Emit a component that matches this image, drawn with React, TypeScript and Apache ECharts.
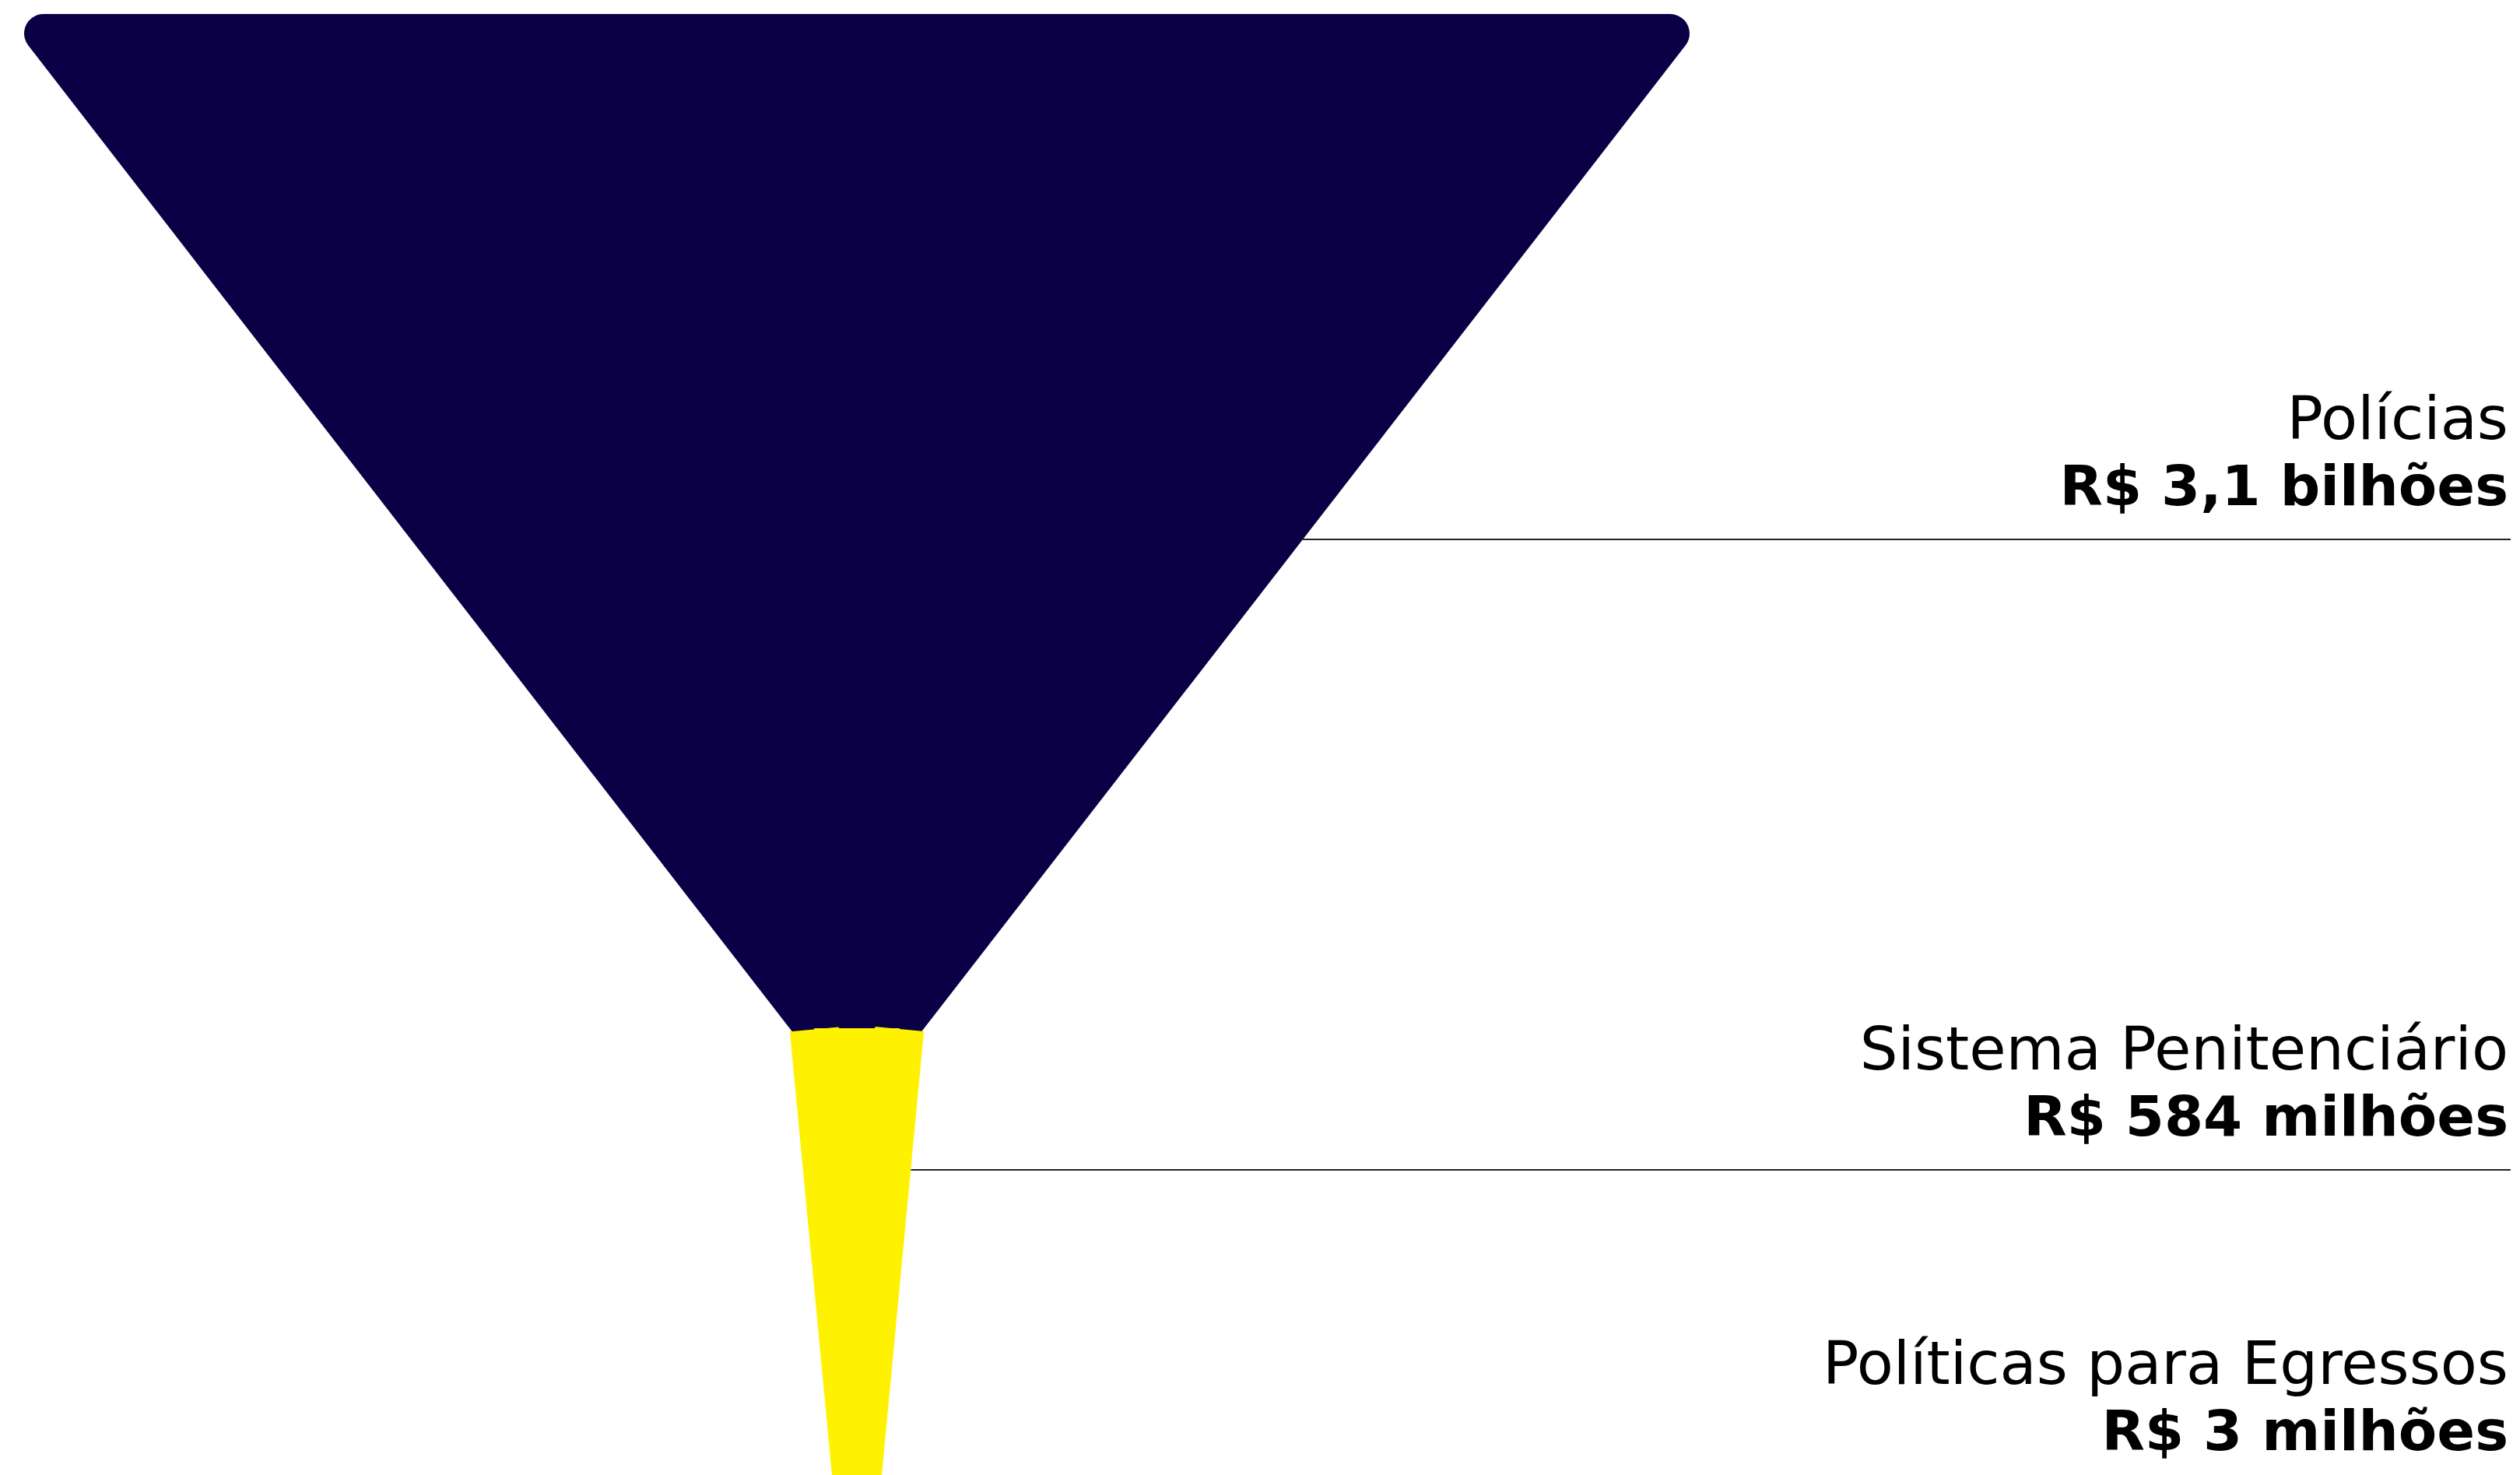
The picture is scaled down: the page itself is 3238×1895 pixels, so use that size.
import React, { useEffect, useRef } from "react";
import * as echarts from "echarts";

// ---- data ----
const CATEGORIES = ["Polícias", "Sistema Penitenciário", "Políticas para Egressos"];
const VALUES = [3100, 584, 3]; // R$ milhões
const VALUE_LABELS = ["R$ 3,1 bilhões", "R$ 584 milhões", "R$ 3 milhões"];
const COLORS = ["#0b0046", "#fff200", "#fff200"];

// ---- layout (styling only) ----
const FUNNEL_LEFT = 56;
const FUNNEL_TOP = 43;
const FUNNEL_WIDTH = 2090;
const SCALE_MIN = 444.55;
const SCALE_MAX = 3100;
const SEGMENT_HEIGHTS = [1278, 578, 300];
const BORDER_WIDTHS = [50, 63, 0]; // same-colour strokes (rounded top corners)
const LABEL_LINE_Y = [693, 1503, 1907];
const LABEL_RIGHT = 3223;
const LINE_END = 3226;

export default function App() {
  const ref = useRef<HTMLDivElement>(null);

  useEffect(() => {
    if (!ref.current) return;
    const chart = echarts.init(ref.current, undefined, { renderer: "svg" });

    // the second piece is stroked on its sides only (no stroke along its top edge)
    const topW = (FUNNEL_WIDTH * (VALUES[1] - SCALE_MIN)) / (SCALE_MAX - SCALE_MIN);
    const side = Math.hypot(topW / 2, SEGMENT_HEIGHTS[1]);
    const skip = 1.2;
    const dashOn = 2 * side - 2 * skip;
    const dashOff = topW + skip;

    const data = CATEGORIES.map((name, i) => {
      const itemStyle: any = {
        color: COLORS[i],
        height: SEGMENT_HEIGHTS[i],
        borderWidth: BORDER_WIDTHS[i],
        borderColor: COLORS[i],
      };
      if (i === 1) {
        itemStyle.borderType = [dashOn, dashOff];
        itemStyle.borderDashOffset = dashOn;
        itemStyle.borderCap = "butt";
      }
      return {
        name,
        value: VALUES[i],
        itemStyle,
        label: {
          formatter: `{a|${name}}\n{b|${VALUE_LABELS[i]}}`,
        },
      };
    });

    chart.setOption({
      animation: false,
      backgroundColor: "#ffffff",
      series: [
        {
          type: "funnel",
          sort: "descending",
          orient: "vertical",
          funnelAlign: "center",
          left: FUNNEL_LEFT,
          top: FUNNEL_TOP,
          width: FUNNEL_WIDTH,
          height: SEGMENT_HEIGHTS.reduce((a, b) => a + b, 0),
          min: SCALE_MIN,
          max: SCALE_MAX,
          minSize: 0,
          maxSize: "100%",
          gap: 0,
          label: {
            show: true,
            position: "right",
            rich: {
              a: {
                fontFamily: "DejaVu Sans",
                fontSize: 77,
                fontWeight: "normal",
                color: "#000000",
                lineHeight: 96,
                align: "right",
              },
              b: {
                fontFamily: "DejaVu Sans",
                fontSize: 72,
                fontWeight: "bold",
                color: "#000000",
                lineHeight: 78,
                align: "right",
              },
            },
          },
          labelLine: {
            show: true,
            length: 10,
            lineStyle: { color: "#222222", width: 2 },
          },
          emphasis: { disabled: true },
          labelLayout: (p: any) => {
            const i = p.dataIndex;
            const lineY = LABEL_LINE_Y[i];
            const half = (BORDER_WIDTHS[i] || 0) / 2;
            const r = p.rect;
            const trX = r.x + r.width - half;
            const trY = r.y + half;
            const m =
              p.labelLinePoints && p.labelLinePoints[0]
                ? p.labelLinePoints[0]
                : [trX, trY + r.height / 2];
            const dy = m[1] - trY;
            const s = dy !== 0 ? (m[0] - trX) / dy : 0;
            const x0 = trX + s * (lineY - trY) + half * Math.sqrt(1 + s * s);
            return {
              x: LABEL_RIGHT,
              y: lineY - 30,
              align: "right",
              verticalAlign: "bottom",
              labelLinePoints: [
                [x0, lineY],
                [LINE_END, lineY],
              ],
            };
          },
          data,
        },
      ],
    });
    return () => chart.dispose();
  }, []);

  return (
    <div
      ref={ref}
      style={{ position: "absolute", left: 0, top: 0, width: 3238, height: 1895, overflow: "hidden" }}
    />
  );
}
